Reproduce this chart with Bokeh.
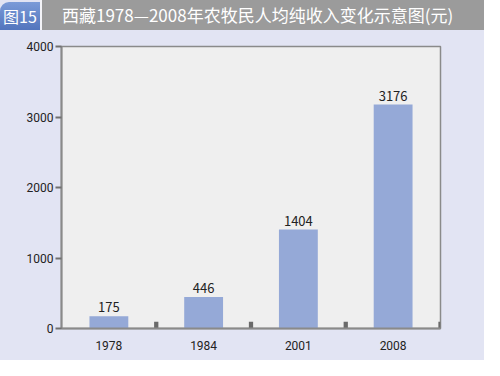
from bokeh.plotting import figure
from bokeh.models import ColumnDataSource, LabelSet, Div, FixedTicker
from bokeh.layouts import column
from bokeh.transform import dodge
from bokeh.core.properties import value
from bokeh.embed import file_html
from bokeh.resources import INLINE

# Data
years = ["1978", "1984", "2001", "2008"]
income = [175, 446, 1404, 3176]
y_ticks = [0, 1000, 2000, 3000, 4000]
fig_label = "图15"
title_text = "西藏1978—2008年农牧民人均纯收入变化示意图(元)"

FONT = "'Noto Sans CJK SC'"
AXFONT = "Roboto"
BG = "#e2e4f3"

header = Div(
    text=(
        f'<div style="display:flex;width:484px;height:30px;background:{BG};font-family:\'Noto Sans CJK SC\';">'
        f'<div style="width:40px;height:28px;margin-top:2px;background:linear-gradient(#7b9bd8,#5275bd);'
        f'border-top-left-radius:9px;color:#fff;font-size:16px;line-height:28px;padding-left:3px;box-sizing:border-box;">{fig_label}</div>'
        f'<div style="width:2px;background:#f4f4f8;"></div>'
        f'<div style="flex:1;height:30px;background:#9b9b9b;color:#fff;font-size:17px;line-height:30px;padding-left:20px;">{title_text}</div>'
        f'</div>'
    ),
    width=484, height=30, margin=0,
)

src = ColumnDataSource(data=dict(year=years, income=income, label=[str(v) for v in income]))

p = figure(
    x_range=years, y_range=(0, 4000),
    width=484, height=330,
    min_border_left=61, min_border_right=44, min_border_top=16, min_border_bottom=32,
    output_backend="svg", toolbar_location=None,
)
p.border_fill_color = BG
p.background_fill_color = "#efefef"
p.outline_line_color = "#8a8a8a"
p.outline_line_width = 1.5
p.grid.visible = False
p.x_range.range_padding = 0

p.vbar(x="year", top="income", width=0.41, source=src, fill_color="#95a9d7", line_color=None)

# small boundary markers on the x axis
p.vbar(x=dodge("year", 0.5, range=p.x_range), top=95, width=0.045, source=src,
       fill_color="#6a6a6a", line_color=None)

labels = LabelSet(x="year", y="income", text="label", source=src, y_offset=4,
                  text_align="center", text_baseline="bottom",
                  text_font=value(FONT), text_font_size="13px", text_color="#222222")
p.add_layout(labels)

p.yaxis.ticker = FixedTicker(ticks=y_ticks)
p.yaxis.axis_line_color = "#8a8a8a"
p.yaxis.axis_line_width = 2
p.yaxis.major_tick_line_color = "#707070"
p.yaxis.major_tick_line_width = 2
p.yaxis.major_tick_out = 6
p.yaxis.major_tick_in = 0
p.yaxis.minor_tick_line_color = None
p.yaxis.major_label_standoff = 2
p.yaxis.major_label_text_font = AXFONT
p.yaxis.major_label_text_font_size = "12px"
p.yaxis.major_label_text_color = "#222222"

p.xaxis.axis_line_color = "#8a8a8a"
p.xaxis.axis_line_width = 2
p.xaxis.major_tick_line_color = None
p.xaxis.major_label_standoff = 6
p.xaxis.major_label_text_font = AXFONT
p.xaxis.major_label_text_font_size = "12px"
p.xaxis.major_label_text_color = "#222222"

layout = column(header, p, spacing=0)
layout.styles = {"background-color": BG}

open("out.html", "w").write(file_html(layout, INLINE))
